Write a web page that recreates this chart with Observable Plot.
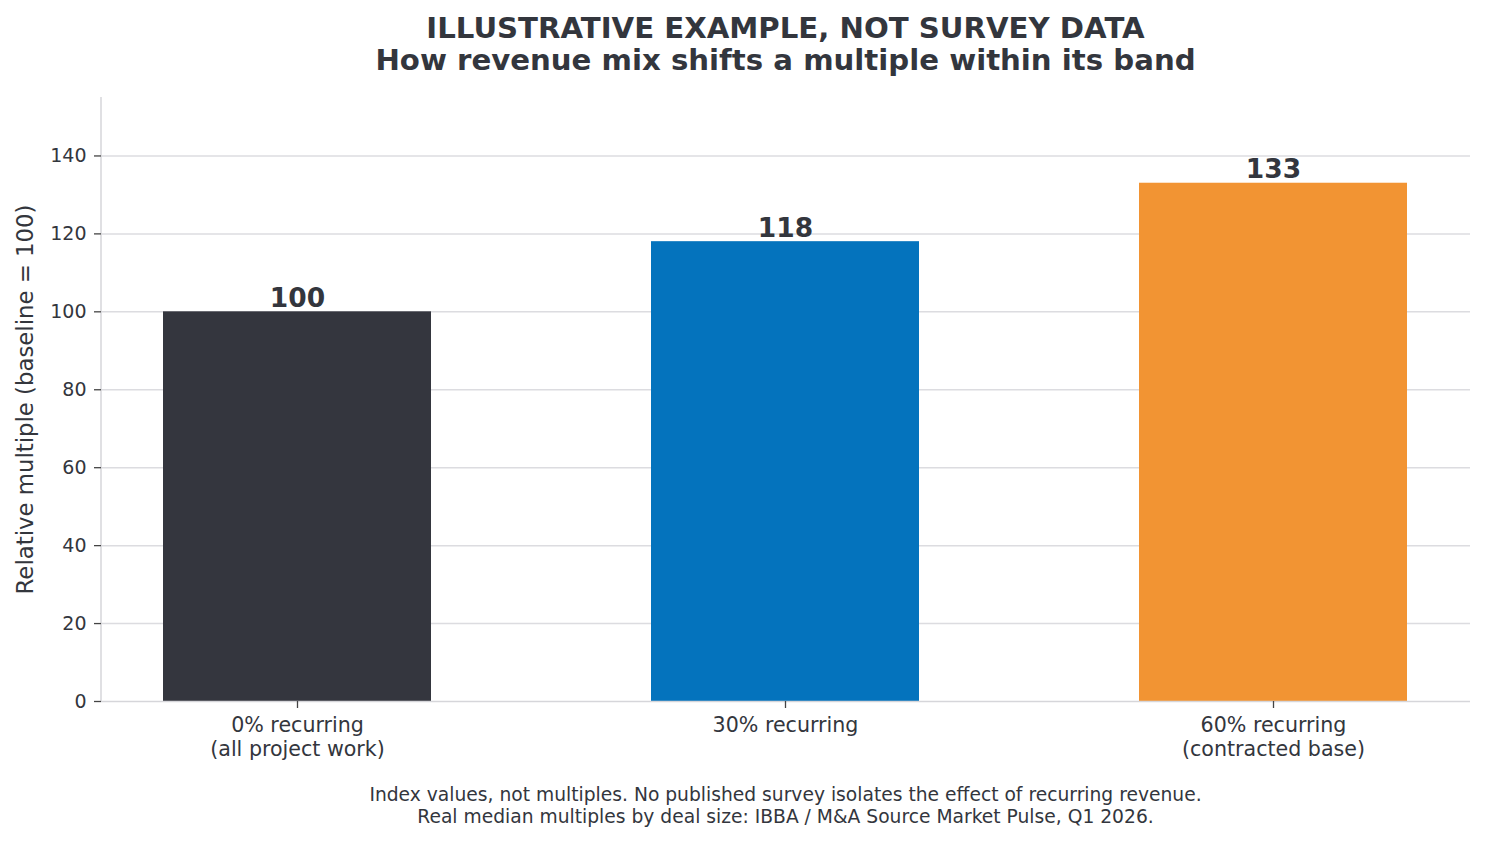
<!DOCTYPE html>
<html>
<head>
<meta charset="utf-8">
<script src="https://cdn.jsdelivr.net/npm/d3@7"></script>
<script src="https://cdn.jsdelivr.net/npm/@observablehq/plot@0.6"></script>
<style>
  html, body { margin: 0; padding: 0; background: #fff; }
  body { width: 1485px; height: 841px; overflow: hidden; font-family: "DejaVu Sans", sans-serif; color: #33363d; }
  #title { padding-top: 12px; padding-left: 86px; text-align: center; font-weight: bold; font-size: 29.2px; line-height: 32px; height: 64px; }
  #caption { padding-left: 86px; padding-top: 8px; text-align: center; font-size: 18.7px; line-height: 22px; }
  svg { display: block; }
</style>
</head>
<body>
<div id="title">ILLUSTRATIVE EXAMPLE, NOT SURVEY DATA<br>How revenue mix shifts a multiple within its band</div>
<div id="chart"></div>
<div id="caption">Index values, not multiples. No published survey isolates the effect of recurring revenue.<br>Real median multiples by deal size: IBBA / M&amp;A Source Market Pulse, Q1 2026.</div>
<script>
const categories = ["0% recurring\n(all project work)", "30% recurring", "60% recurring\n(contracted base)"];
const values = [100, 118, 133];
const barColors = ["#34363e", "#0473bd", "#f29433"];
const yTicks = [0, 20, 40, 60, 80, 100, 120, 140];
const yLabel = "Relative multiple (baseline = 100)";

const TEXT = "#33363d";
const GRID = "#dcdce0";
const SPINE = "#d6d6da";

const data = categories.map((c, i) => ({category: c, value: values[i]}));

const leftSpine = (index, scales, vals, dims) => {
  const l = dims.marginLeft;
  const t = dims.marginTop;
  const b = dims.height - dims.marginBottom;
  return d3.create("svg:line")
    .attr("x1", l).attr("x2", l).attr("y1", t).attr("y2", b)
    .attr("stroke", SPINE).attr("stroke-width", 1.5).node();
};

const chart = Plot.plot({
  width: 1485,
  height: 700,
  marginLeft: 101,
  marginRight: 15,
  marginTop: 21,
  marginBottom: 75,
  style: {fontFamily: "DejaVu Sans, sans-serif", fontSize: "20px", color: TEXT, background: "#fff"},
  x: {domain: categories, paddingInner: 0.45, paddingOuter: 0.1275, label: null},
  y: {domain: [0, 155], label: null},
  color: {domain: categories, range: barColors},
  marks: [
    Plot.ruleY(yTicks.filter(d => d > 0), {stroke: GRID, strokeWidth: 1.5}),
    Plot.barY(data, {x: "category", y: "value", fill: "category"}),
    Plot.ruleY([0], {stroke: SPINE, strokeWidth: 1.5}),
    leftSpine,
    Plot.axisY({ticks: yTicks, tickSize: 7, tickPadding: 8, stroke: "#444", fill: TEXT, strokeWidth: 1.3, fontSize: 19, label: null}),
    Plot.axisY({ticks: [], label: yLabel, labelAnchor: "center", labelArrow: "none", labelOffset: 85, fontSize: 22.8, fill: TEXT}),
    Plot.axisX({tickSize: 7, tickPadding: 6, stroke: "#444", fill: TEXT, strokeWidth: 1.3, lineHeight: 1.17, fontSize: 20.6, label: null}),
    Plot.text(data, {x: "category", y: "value", text: d => String(d.value), dy: -5, lineAnchor: "bottom", fontWeight: "bold", fontSize: 26.5, fill: TEXT})
  ]
});
document.getElementById("chart").appendChild(chart);
</script>
</body>
</html>
